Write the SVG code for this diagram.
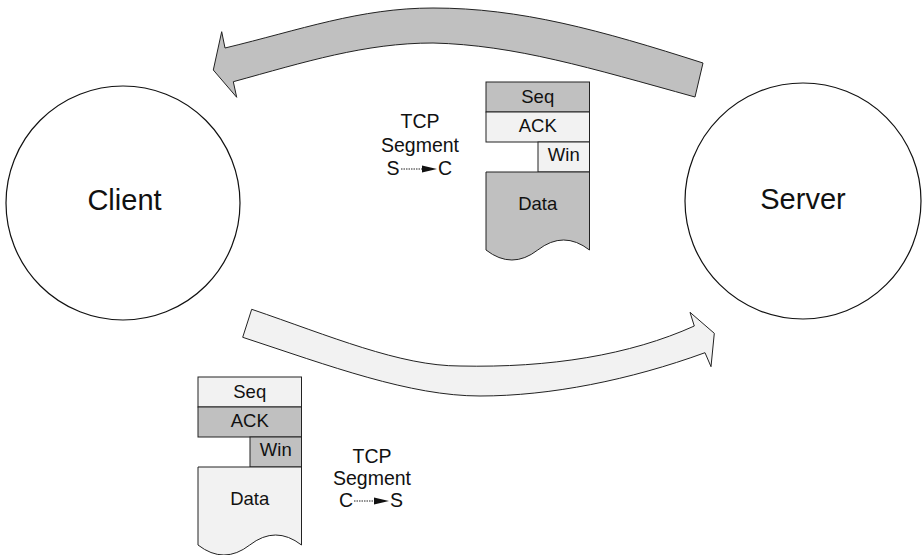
<svg xmlns="http://www.w3.org/2000/svg" width="922" height="555" viewBox="0 0 922 555">
<style>
  text { font-family: "Liberation Sans", Arial, sans-serif; fill: #111; text-anchor: middle; }
  .big { font-size: 29px; }
  .fld { font-size: 18.5px; }
  .lbl { font-size: 19.5px; }
  .node { fill: #ffffff; stroke: #111; stroke-width: 1.2; }
  .dark { fill: #c0c0c0; stroke: #222; stroke-width: 1; }
  .light { fill: #f2f2f2; stroke: #222; stroke-width: 1; }
  .arrowline { stroke: #222; stroke-width: 1; stroke-dasharray: 1.5 1; fill: none; }
  .arrowhead { fill: #111; }
</style>
<defs>
  <path id="datashape" d="M0,90 H103.5 V168 Q77.6,148 51.75,168 T0,168 Z"/>
</defs>

<g id="connectors">
  <path id="arrow-sc" class="dark" d="M703,63 C600,30 520,8 433,8 C360,8 300,30 225,48 L221.7,31.7 L213.3,70 L236.7,97.3 L233.3,81.7 C305,62 365,43 433,43 C515,45 590,68 695,97 Z"/>
  <path id="arrow-cs" class="light" d="M251.7,309.3 C330,336 400,366 460,366 C550,368 630,355 694.3,326 L690,312.3 L714.3,333.3 L711,366.7 L705,352.7 C630,380 550,396 480,396 C410,396 330,366 242.7,337.3 Z"/>
</g>

<g id="client">
  <circle class="node" cx="123" cy="203" r="117"/>
  <text class="big" x="124.5" y="210">Client</text>
</g>

<g id="server">
  <circle class="node" cx="803" cy="201" r="118"/>
  <text class="big" x="803" y="209">Server</text>
</g>

<g id="packet-sc" transform="translate(486,82)">
  <rect class="dark" x="0" y="0" width="103.5" height="30"/>
  <rect class="light" x="0" y="30" width="103.5" height="30"/>
  <rect class="light" x="52" y="60" width="51.5" height="30"/>
  <path class="dark" d="M0,90 H103.5 V168 Q77.6,148 51.75,168 T0,168 Z"/>
  <text class="fld" x="51.75" y="21.3">Seq</text>
  <text class="fld" x="51.75" y="49.7">ACK</text>
  <text class="fld" x="77.75" y="79">Win</text>
  <text class="fld" x="51.75" y="128">Data</text>
</g>

<g id="packet-cs" transform="translate(198,377)">
  <rect class="light" x="0" y="0" width="103.5" height="30"/>
  <rect class="dark" x="0" y="30" width="103.5" height="30"/>
  <rect class="dark" x="52" y="60" width="51.5" height="30"/>
  <path class="light" d="M0,90 H103.5 V168 Q77.6,148 51.75,168 T0,168 Z"/>
  <text class="fld" x="51.75" y="21.3">Seq</text>
  <text class="fld" x="51.75" y="49.7">ACK</text>
  <text class="fld" x="77.75" y="79">Win</text>
  <text class="fld" x="51.75" y="128">Data</text>
</g>

<g id="label-sc">
  <text class="lbl" x="420" y="128">TCP</text>
  <text class="lbl" x="420" y="152">Segment</text>
  <text class="lbl" x="393" y="175">S</text>
  <line class="arrowline" x1="401" y1="169" x2="423" y2="169"/>
  <polygon class="arrowhead" points="422,165.5 437,169 422,172.5"/>
  <text class="lbl" x="445" y="175">C</text>
</g>

<g id="label-cs">
  <text class="lbl" x="372" y="463">TCP</text>
  <text class="lbl" x="372" y="485">Segment</text>
  <text class="lbl" x="346" y="507">C</text>
  <line class="arrowline" x1="354" y1="501" x2="375" y2="501"/>
  <polygon class="arrowhead" points="374,497.5 389,501 374,504.5"/>
  <text class="lbl" x="396.5" y="507">S</text>
</g>
</svg>
